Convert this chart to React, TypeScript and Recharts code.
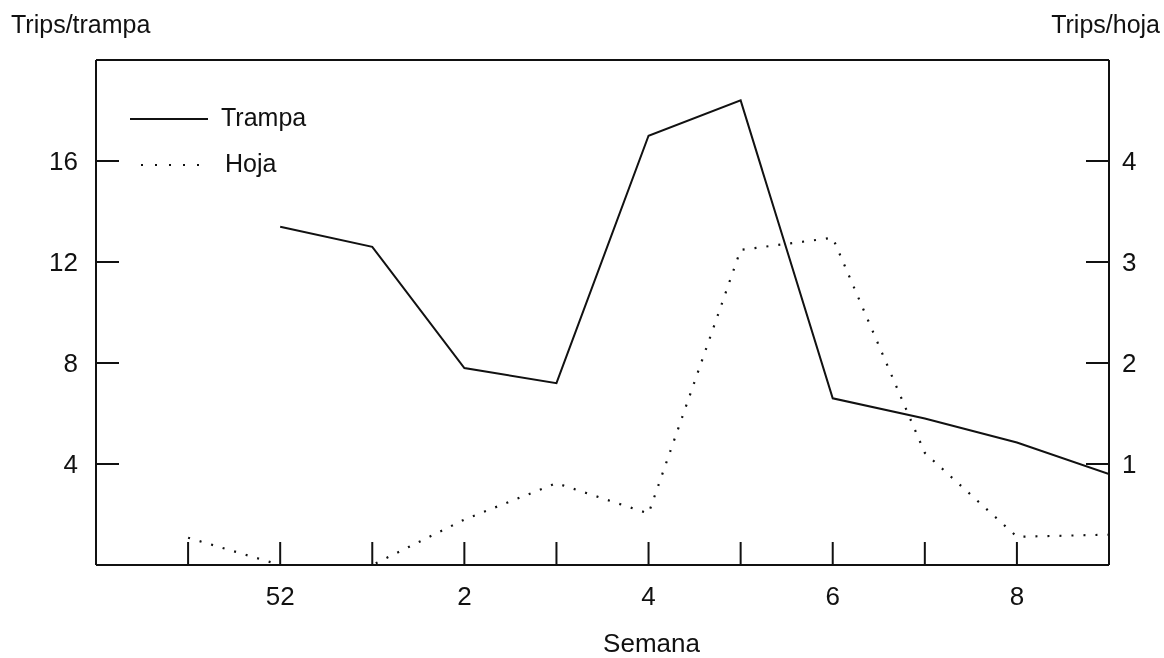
import React from 'react';
import { ComposedChart, Line, XAxis, YAxis, Legend, Label } from 'recharts';

const weeks = ['51', '52', '1', '2', '3', '4', '5', '6', '7', '8', '9'];
const trampa: (number | null)[] = [null, 13.4, 12.6, 7.8, 7.2, 17.0, 18.4, 6.6, 5.8, 4.85, 3.6];
const hoja: number[] = [0.27, 0, 0, 0.45, 0.81, 0.51, 3.12, 3.24, 1.11, 0.28, 0.3];
const xTicks = [1, 2, 3, 4, 5, 6, 7, 8, 9, 10];
const leftTicks = [4, 8, 12, 16];
const rightTicks = [1, 2, 3, 4];

const data = weeks.map((w, i) => ({ x: i + 1, week: w, trampa: trampa[i], hoja: hoja[i] }));

const FONT = '"Liberation Sans", Arial, sans-serif';
const INK = '#111';
const axisLine = { stroke: INK, strokeWidth: 2 };
const tickLine = { stroke: INK, strokeWidth: 2 };

const LegendBox = () => (
  <svg width={330} height={190} style={{ display: 'block' }}>
    <line x1={130} x2={208} y1={119} y2={119} stroke={INK} strokeWidth={2} />
    <text x={221} y={126} fontSize={25} fontFamily={FONT} fill={INK}>Trampa</text>
    <line x1={141} x2={199} y1={165} y2={165} stroke={INK} strokeWidth={2.2} strokeDasharray="2 12" />
    <text x={225} y={172} fontSize={25} fontFamily={FONT} fill={INK}>Hoja</text>
  </svg>
);

export default function App() {
  return (
    <div style={{ position: 'fixed', left: 0, top: 0, width: 1164, height: 658, fontFamily: FONT }}>
      <ComposedChart
        width={1164}
        height={658}
        data={data}
        margin={{ top: 59, right: 0, bottom: 0, left: 0 }}
      >
        <XAxis
          xAxisId="top"
          orientation="top"
          type="number"
          dataKey="x"
          domain={[0, 11]}
          allowDataOverflow
          ticks={xTicks}
          interval={0}
          height={1}
          tick={false}
          tickSize={-23}
          axisLine={axisLine}
          tickLine={tickLine}
        />
        <XAxis
          xAxisId="bottom"
          orientation="bottom"
          type="number"
          dataKey="x"
          domain={[0, 11]}
          allowDataOverflow
          ticks={xTicks}
          interval={0}
          height={93}
          tickSize={-23}
          tickMargin={45}
          tickFormatter={(v: number) => (v % 2 === 0 ? weeks[v - 1] : '')}
          tick={{ fill: INK, fontSize: 26, fontFamily: FONT }}
          axisLine={axisLine}
          tickLine={tickLine}
        >
          <Label
            content={(props: any) => {
              const vb = props.viewBox || {};
              return (
                <text
                  x={vb.x + vb.width / 2 + 49}
                  y={vb.y + vb.height - 6}
                  textAnchor="middle"
                  fontSize={26}
                  fontFamily={FONT}
                  fill={INK}
                >
                  Semana
                </text>
              );
            }}
          />
        </XAxis>
        <YAxis
          yAxisId="left"
          orientation="left"
          type="number"
          domain={[0, 20]}
          allowDataOverflow
          ticks={leftTicks}
          interval={0}
          width={96}
          tickSize={-23}
          tickMargin={41}
          tick={{ fill: INK, fontSize: 26, fontFamily: FONT }}
          axisLine={axisLine}
          tickLine={tickLine}
        >
          <Label
            content={(props: any) => {
              const vb = props.viewBox || {};
              return (
                <text x={vb.x + 11} y={vb.y - 27} textAnchor="start" fontSize={25} fontFamily={FONT} fill={INK}>
                  Trips/trampa
                </text>
              );
            }}
          />
        </YAxis>
        <YAxis
          yAxisId="right"
          orientation="right"
          type="number"
          domain={[0, 5]}
          allowDataOverflow
          ticks={rightTicks}
          interval={0}
          width={55}
          tickSize={-23}
          tickMargin={36}
          tick={{ fill: INK, fontSize: 26, fontFamily: FONT }}
          axisLine={axisLine}
          tickLine={tickLine}
        >
          <Label
            content={(props: any) => {
              const vb = props.viewBox || {};
              return (
                <text x={vb.x + vb.width - 4} y={vb.y - 27} textAnchor="end" fontSize={25} fontFamily={FONT} fill={INK}>
                  Trips/hoja
                </text>
              );
            }}
          />
        </YAxis>
        <Legend
          layout="vertical"
          align="center"
          verticalAlign="middle"
          wrapperStyle={{ left: 0, top: 0, width: 330, height: 190 }}
          content={() => <LegendBox />}
        />
        <Line
          xAxisId="bottom"
          yAxisId="left"
          dataKey="trampa"
          name="Trampa"
          type="linear"
          stroke={INK}
          strokeWidth={2}
          dot={false}
          activeDot={false}
          isAnimationActive={false}
        />
        <Line
          xAxisId="bottom"
          yAxisId="right"
          dataKey="hoja"
          name="Hoja"
          type="linear"
          stroke={INK}
          strokeWidth={2.2}
          strokeDasharray="2 10"
          dot={false}
          activeDot={false}
          isAnimationActive={false}
        />
      </ComposedChart>
    </div>
  );
}
